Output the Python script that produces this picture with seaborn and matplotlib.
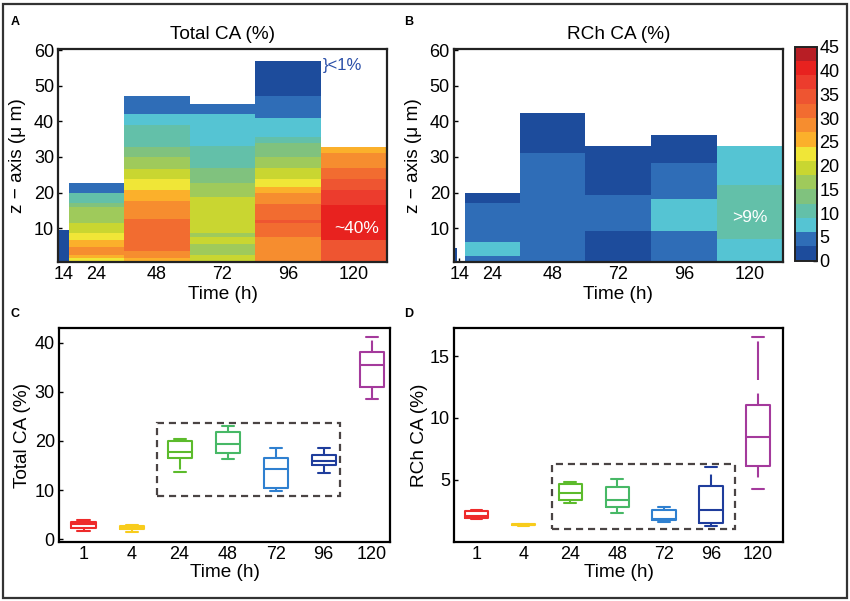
import numpy as np
import pandas as pd
import matplotlib
matplotlib.use("Agg")
import matplotlib.pyplot as plt
import seaborn as sns
from matplotlib.colors import ListedColormap, BoundaryNorm
from matplotlib.cm import ScalarMappable
from matplotlib.patches import Rectangle

# ---------------- data ----------------
heat_time_labels = ["14", "24", "48", "72", "96", "120"]

# 15 discrete colour levels of 3 % each (0-45 %)
level_colors = ["#1d4c9c", "#2f6db7", "#55c4d3", "#63c0a9", "#80c27e",
                "#9fca5b", "#c9d631", "#f0e637", "#fbb02b", "#f68d2f",
                "#f26c30", "#ee5531", "#ec3c2d", "#e8221f", "#b81e25"]
level_bounds = [0, 3, 6, 9, 12, 15, 18, 21, 24, 27, 30, 33, 36, 39, 42, 45]

# Total CA (%) : band edges along z (µm) and band value (%) per time column
total_edges = [
    [0.6, 9.5],
    [0.6, 1.6, 2.5, 4.6, 6.7, 8.6, 11.6, 16.0, 17.0, 19.8, 22.8],
    [0.6, 1.5, 3.7, 12.6, 17.7, 20.7, 23.7, 26.5, 29.9, 32.9, 39.0, 42.0, 47.0],
    [0.6, 2.5, 5.6, 7.6, 8.6, 18.7, 22.6, 27.0, 33.0, 42.0, 45.0],
    [0.6, 7.6, 11.6, 12.4, 16.9, 19.8, 21.7, 23.7, 26.8, 29.9, 33.8, 35.7, 41.0, 47.0, 57.0],
    [0.6, 6.7, 16.5, 20.7, 23.7, 26.8, 31.0, 32.9],
]
total_values = [
    [1.5],
    [22.5, 25.5, 28.5, 25.5, 22.5, 19.5, 16.5, 13.5, 10.5, 4.5],
    [25.5, 28.5, 31.5, 28.5, 25.5, 22.5, 19.5, 16.5, 13.5, 10.5, 7.5, 4.5],
    [19.5, 16.5, 19.5, 16.5, 19.5, 16.5, 13.5, 10.5, 7.5, 4.5],
    [28.5, 31.5, 34.5, 31.5, 28.5, 25.5, 22.5, 19.5, 16.5, 13.5, 10.5, 7.5, 4.5, 1.5],
    [34.5, 40.5, 37.5, 34.5, 31.5, 28.5, 25.5],
]

# RCh CA (%)
rch_edges = [
    [0.6, 4.4],
    [0.6, 2.15, 6.2, 17.2, 20.0],
    [0.6, 31.2, 42.2],
    [0.6, 9.1, 19.2, 33.2],
    [0.6, 9.1, 18.1, 28.2, 36.2],
    [0.6, 7.1, 22.0, 33.2],
]
rch_values = [
    [1.5],
    [4.5, 7.5, 4.5, 1.5],
    [4.5, 1.5],
    [1.5, 4.5, 1.5],
    [4.5, 7.5, 4.5, 1.5],
    [7.5, 10.5, 7.5],
]

# box plots: five-number summaries (min, Q1, median, Q3, max)
box_times = ["1", "4", "24", "48", "72", "96", "120"]
box_colors = ["#ee2a2a", "#f8cc1c", "#5cbb2c", "#47b866", "#2f80d0", "#1f3d9c", "#a43a9c"]
total_box_stats = [
    [1.75, 2.37, 3.05, 3.58, 3.93],
    [1.55, 2.16, 2.50, 2.77, 2.80],
    [13.6, 16.6, 17.7, 20.0, 20.3],
    [16.3, 17.6, 19.4, 21.9, 23.1],
    [9.9, 10.4, 14.2, 16.5, 18.6],
    [13.4, 15.0, 15.9, 17.1, 18.6],
    [28.6, 30.9, 35.5, 38.0, 41.2],
]
rch_box_stats = [
    [1.85, 1.90, 2.10, 2.48, 2.56],
    [1.30, 1.33, 1.36, 1.40, 1.42],
    [3.16, 3.35, 3.90, 4.65, 4.84],
    [2.31, 2.80, 3.37, 4.43, 5.10],
    [1.60, 1.74, 1.80, 2.60, 2.83],
    [1.23, 1.50, 2.53, 4.49, 6.00],
    [4.24, 6.08, 8.44, 11.07, 16.57],
]
# dashed grouping boxes (x from, x to, y from, y to)
total_group_frame = [1.53, 5.33, 8.8, 23.7]
rch_group_frame = [1.60, 5.51, 1.04, 6.28]

# ---------------- layout ----------------
heat_cols_total = [(0.0, 1 / 6), (1 / 6, 1.0), (1.0, 2.0), (2.0, 3.0), (3.0, 4.0), (4.0, 5.0)]
heat_cols_rch = [(0.0, 0.04), (1 / 6, 1.0), (1.0, 2.0), (2.0, 3.0), (3.0, 4.0), (4.0, 5.0)]
heat_tick_pos = [1 / 12, 7 / 12, 1.5, 2.5, 3.5, 4.5]

sns.set_theme(style="white")
plt.rcParams["font.family"] = ["Liberation Sans", "DejaVu Sans"]
plt.rcParams.update({
    "axes.edgecolor": "black",
    "axes.linewidth": 1.6,
    "xtick.direction": "in",
    "ytick.direction": "in",
    "xtick.major.size": 3,
    "ytick.major.size": 3,
    "xtick.major.width": 1.0,
    "ytick.major.width": 1.0,
    "xtick.bottom": True,
    "ytick.left": True,
    "xtick.color": "black",
    "ytick.color": "black",
    "text.color": "black",
    "axes.labelcolor": "black",
})

W, H = 850, 601
fig = plt.figure(figsize=(W / 100, H / 100), dpi=100)


def px_axes(l, t, r, b):
    return fig.add_axes([l / W, 1 - b / H, (r - l) / W, (b - t) / H])


cmap = ListedColormap(level_colors)
norm = BoundaryNorm(level_bounds, cmap.N)

FS = 13
LFS = 13.7


def heat_panel(ax, cols, edges, values, title):
    for (x0, x1), e, v in zip(cols, edges, values):
        ax.pcolormesh([x0, x1], e, np.array(v)[:, None], cmap=cmap, norm=norm,
                      shading="flat", linewidth=0, antialiased=False)
    ax.set_xlim(0, 5)
    ax.set_ylim(0.6, 60.3)
    ax.set_xticks(heat_tick_pos)
    ax.set_xticklabels(heat_time_labels)
    ax.set_yticks([10, 20, 30, 40, 50, 60])
    ax.tick_params(labelsize=FS, pad=3)
    ax.set_title(title, fontsize=LFS, pad=7)
    ax.set_xlabel("Time (h)", fontsize=LFS, va="center")
    ax.xaxis.set_label_coords(0.5, -0.152)
    ax.set_ylabel("z \u2212 axis (\u03bc m)", fontsize=LFS, va="center")
    ax.yaxis.set_label_coords(-0.123, 0.5)
    for s in ax.spines.values():
        s.set_color("#222222")


axA = px_axes(58.3, 49, 386.7, 261.7)
heat_panel(axA, heat_cols_total, total_edges, total_values, "Total CA (%)")
axA.text(4.03, 55.6, "}<1%", color="#2a4fa8", fontsize=12, ha="left", va="center")
axA.text(4.55, 10.0, "~40%", color="white", fontsize=12.5, ha="center", va="center")

axB = px_axes(454, 49, 782.7, 261.7)
heat_panel(axB, heat_cols_rch, rch_edges, rch_values, "RCh CA (%)")
axB.text(4.5, 12.9, ">9%", color="white", fontsize=12.5, ha="center", va="center")

cax = px_axes(795, 46.7, 816.7, 260.7)
cb = fig.colorbar(ScalarMappable(norm=norm, cmap=cmap), cax=cax,
                  ticks=list(range(0, 46, 5)))
cb.outline.set_linewidth(1.4)
cb.outline.set_edgecolor("#222222")
cax.tick_params(labelsize=FS, length=3, width=1, direction="in", pad=2)


def box_panel(ax, stats, ylabel, frame, xlim, ylim, yticks, ylab_x):
    rows = []
    for t, s in zip(box_times, stats):
        for val in s:
            rows.append({"time": t, "value": val})
    df = pd.DataFrame(rows)
    sns.boxplot(data=df, x="time", y="value", hue="time", order=box_times,
                hue_order=box_times, palette=box_colors, saturation=1,
                fill=False, width=0.5, whis=(0, 100), linewidth=1.5,
                legend=False, ax=ax,
                whiskerprops={"linestyle": (13.0, (18.5, 6.5))})
    ax.add_patch(Rectangle((frame[0], frame[2]), frame[1] - frame[0], frame[3] - frame[2],
                           fill=False, edgecolor="#4a4444", linewidth=1.6,
                           linestyle=(0, (3.2, 2.2)), zorder=1))
    ax.set_xlim(*xlim)
    ax.set_ylim(*ylim)
    ax.set_yticks(yticks)
    ax.tick_params(labelsize=FS, pad=3)
    ax.set_xlabel("Time (h)", fontsize=LFS, va="center")
    ax.xaxis.set_label_coords(0.5, -0.145)
    ax.set_ylabel(ylabel, fontsize=LFS, va="center")
    ax.yaxis.set_label_coords(ylab_x, 0.5)
    ax.tick_params(axis="x", length=0)


axC = px_axes(59, 328.3, 390, 541.7)
box_panel(axC, total_box_stats, "Total CA (%)", total_group_frame,
          (-0.51, 6.38), (-0.5, 42.9), [0, 10, 20, 30, 40], -0.109)

axD = px_axes(454, 328.3, 783.3, 541.7)
box_panel(axD, rch_box_stats, "RCh CA (%)", rch_group_frame,
          (-0.48, 6.54), (0.0, 17.25), [5, 10, 15], -0.106)

# panel letters
for lab, (x, y) in zip("ABCD", [(15, 22), (409, 22), (15, 314), (409, 314)]):
    fig.text(x / W, 1 - y / H, lab, fontsize=9, fontweight="bold", ha="center", va="center")

# figure frame
fig.patches.append(Rectangle((3 / W, 3 / H), 844 / W, 594 / H, transform=fig.transFigure,
                             fill=False, edgecolor="#333333", linewidth=1.6))

fig.savefig("out.png", dpi=100)
